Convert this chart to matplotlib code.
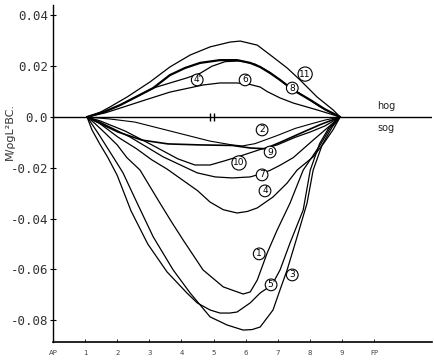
import matplotlib
matplotlib.use("Agg")
import matplotlib.pyplot as plt

# Station positions (AP = 0, FP = 10) and bending moment coefficients
x_labels = ["AP", "1", "2", "3", "4", "5", "6", "7", "8", "9", "FP"]
y_ticks = [0.04, 0.02, 0.0, -0.02, -0.04, -0.06, -0.08]
y_ticklabels = ["0.04", "0.02", "0.0", "-0.02", "-0.04", "-0.06", "-0.08"]

# Hogging curves
s11 = [1.06, 1.46, 1.78, 2.31, 3.02, 3.64, 4.27, 4.89, 5.51, 5.83, 6.36, 6.85, 7.29, 7.69, 8.22, 8.72, 8.94]
m11 = [0, 0.0018, 0.0040, 0.0079, 0.0138, 0.0197, 0.0244, 0.0276, 0.0295, 0.0299, 0.0283, 0.0236, 0.0193, 0.0146, 0.0079, 0.0028, 0]
s8 = [1.06, 1.62, 2.09, 2.60, 3.12, 3.64, 4.11, 4.58, 5.20, 5.73, 6.14, 6.45, 6.76, 7.07, 7.48, 8.01, 8.47, 8.94]
m8 = [0, 0.0022, 0.0047, 0.0080, 0.0114, 0.0165, 0.0193, 0.0213, 0.0224, 0.0224, 0.0213, 0.0197, 0.0173, 0.0146, 0.0106, 0.0067, 0.0030, 0]
s4p = [1.06, 1.62, 2.09, 3.12, 4.17, 4.58, 4.95, 5.36, 5.83, 6.29, 6.76, 7.23, 7.69, 8.32, 8.94]
m4p = [0, 0.0020, 0.0047, 0.0114, 0.0154, 0.0172, 0.0200, 0.0218, 0.0221, 0.0208, 0.0175, 0.0130, 0.0092, 0.0040, 0]
s6 = [1.06, 1.62, 2.09, 2.87, 3.64, 4.67, 5.20, 5.73, 6.14, 6.45, 6.67, 7.07, 7.48, 8.22, 8.94]
m6 = [0, 0.0016, 0.0035, 0.0067, 0.0098, 0.0126, 0.0134, 0.0134, 0.0128, 0.0118, 0.0100, 0.0075, 0.0055, 0.0028, 0]

# Sagging curves
s2 = [1.06, 1.78, 2.55, 3.33, 4.11, 4.89, 5.58, 5.89, 6.29, 6.98, 7.54, 8.01, 8.47, 8.94]
m2 = [0, -0.0008, -0.0020, -0.0045, -0.0070, -0.0095, -0.0110, -0.0114, -0.0105, -0.0073, -0.0045, -0.0028, -0.0012, 0]
s9 = [1.06, 1.46, 2.02, 2.77, 3.58, 4.58, 5.58, 6.14, 6.60, 7.07, 7.69, 8.32, 8.94]
m9 = [0, -0.0025, -0.0059, -0.0091, -0.0106, -0.0110, -0.0112, -0.0122, -0.0125, -0.0100, -0.0065, -0.0030, 0]
s10 = [1.06, 1.46, 2.24, 3.08, 3.89, 4.42, 4.89, 5.36, 5.92, 6.45, 6.98, 7.54, 8.01, 8.47, 8.94]
m10 = [0, -0.0015, -0.0055, -0.0110, -0.0165, -0.0189, -0.0189, -0.0172, -0.0150, -0.0128, -0.0110, -0.0080, -0.0059, -0.0035, 0]
s7 = [1.06, 1.46, 2.40, 3.43, 4.49, 5.05, 5.58, 6.14, 6.36, 6.76, 7.07, 7.48, 8.10, 8.57, 8.94]
m7 = [0, -0.0020, -0.0079, -0.0157, -0.0220, -0.0236, -0.0240, -0.0236, -0.0228, -0.0210, -0.0190, -0.0160, -0.0091, -0.0040, 0]
s4 = [1.06, 1.45, 2.02, 2.60, 3.08, 3.55, 4.03, 4.50, 4.89, 5.30, 5.73, 6.05, 6.36, 6.85, 7.29, 7.60, 8.10, 8.45, 8.72, 8.94]
m4 = [0, -0.0025, -0.0079, -0.0125, -0.0169, -0.0205, -0.0248, -0.0290, -0.0335, -0.0365, -0.0378, -0.0372, -0.0358, -0.0315, -0.0260, -0.0209, -0.0157, -0.0100, -0.0050, 0]
s1 = [1.06, 1.30, 1.62, 2.00, 2.30, 2.71, 3.00, 3.33, 3.70, 4.05, 4.67, 5.30, 5.92, 6.14, 6.36, 6.67, 6.98, 7.38, 7.79, 8.32, 8.63, 8.94]
m1 = [0, -0.0025, -0.0063, -0.0110, -0.0160, -0.0209, -0.0270, -0.0339, -0.0415, -0.0484, -0.0602, -0.0669, -0.0697, -0.0689, -0.0642, -0.0535, -0.0445, -0.0339, -0.0209, -0.0110, -0.0043, 0]
s5p = [1.06, 1.21, 1.45, 1.71, 2.00, 2.43, 2.95, 3.55, 4.17, 4.49, 4.89, 5.20, 5.50, 5.73, 6.14, 6.45, 6.82, 7.07, 7.38, 7.79, 8.01, 8.30, 8.60, 8.94]
m5p = [0, -0.0050, -0.0105, -0.0160, -0.0230, -0.0370, -0.0500, -0.0610, -0.0693, -0.0732, -0.0760, -0.0772, -0.0772, -0.0768, -0.0732, -0.0693, -0.0661, -0.0602, -0.0496, -0.0366, -0.0209, -0.0105, -0.0040, 0]
s3 = [1.06, 1.40, 1.93, 2.18, 2.62, 3.12, 3.74, 4.27, 4.89, 5.42, 5.92, 6.20, 6.45, 6.85, 7.07, 7.29, 7.60, 7.91, 8.10, 8.38, 8.69, 8.94]
m3 = [0, -0.0063, -0.0169, -0.0220, -0.0339, -0.0472, -0.0602, -0.0693, -0.0787, -0.0819, -0.0839, -0.0837, -0.0827, -0.0760, -0.0680, -0.0602, -0.0472, -0.0339, -0.0209, -0.0110, -0.0040, 0]

curves = [
    (s11, m11, 0.9), (s8, m8, 1.6), (s4p, m4p, 0.9), (s6, m6, 0.9),
    (s2, m2, 0.8), (s9, m9, 1.2), (s10, m10, 0.9), (s7, m7, 0.9),
    (s4, m4, 0.9), (s1, m1, 0.9), (s5p, m5p, 0.9), (s3, m3, 0.9),
]

# Curve labels (text, station, value)
label_text = ["4'", "6", "8", "11", "2", "9", "10", "7", "4", "1", "5'", "3"]
label_s = [4.49, 5.98, 7.45, 7.85, 6.51, 6.76, 5.79, 6.51, 6.60, 6.42, 6.79, 7.45]
label_m = [0.0146, 0.0146, 0.0114, 0.0169, -0.0051, -0.0138, -0.0181, -0.0228, -0.0291, -0.0539, -0.0661, -0.0622]

midship_marks = [4.88, 5.0]

fig = plt.figure(figsize=(4.34, 3.61), dpi=100)
ax = fig.add_axes([53/434, 19/361, 379/434, 337/361])
ax.set_xlim(0, 11.8)
ax.set_ylim(-0.0886, 0.0441)

ax.axhline(0, color="black", lw=1.0, zorder=2)
for s, m, lw in curves:
    ax.plot(s, m, color="black", lw=lw, solid_capstyle="round", zorder=3)

ax.plot(midship_marks, [0, 0], ls="none", marker="|", ms=6, mew=1.0, color="black", zorder=4)

for t, s, m in zip(label_text, label_s, label_m):
    ax.text(s, m, t, fontsize=6.5, ha="center", va="center", zorder=5,
            bbox=dict(boxstyle="circle,pad=0.15", fc="white", ec="black", lw=0.8))

ax.text(10.1, 0.0045, "hog", fontsize=7, ha="left", va="center", color="#222222")
ax.text(10.1, -0.0045, "sog", fontsize=7, ha="left", va="center", color="#222222")

for side in ["top", "right"]:
    ax.spines[side].set_visible(False)
ax.spines["left"].set_linewidth(1.0)
ax.spines["bottom"].set_linewidth(1.2)

ax.set_yticks(y_ticks)
ax.set_yticklabels(y_ticklabels, fontfamily="DejaVu Sans Mono", fontsize=9, color="#333333")
ax.tick_params(axis="y", direction="inout", length=5, width=0.8, pad=1)
ax.set_xticks(range(len(x_labels)))
ax.set_xticklabels(x_labels, fontsize=5, color="#444444")
ax.tick_params(axis="x", direction="in", length=2, width=0.6, pad=6)

fig.text(10/434, 1 - 131/361, "M/ρgL²BC.", rotation=90, fontsize=8,
         ha="center", va="center", color="#333333")

fig.savefig("out.png", dpi=100, facecolor="white")
